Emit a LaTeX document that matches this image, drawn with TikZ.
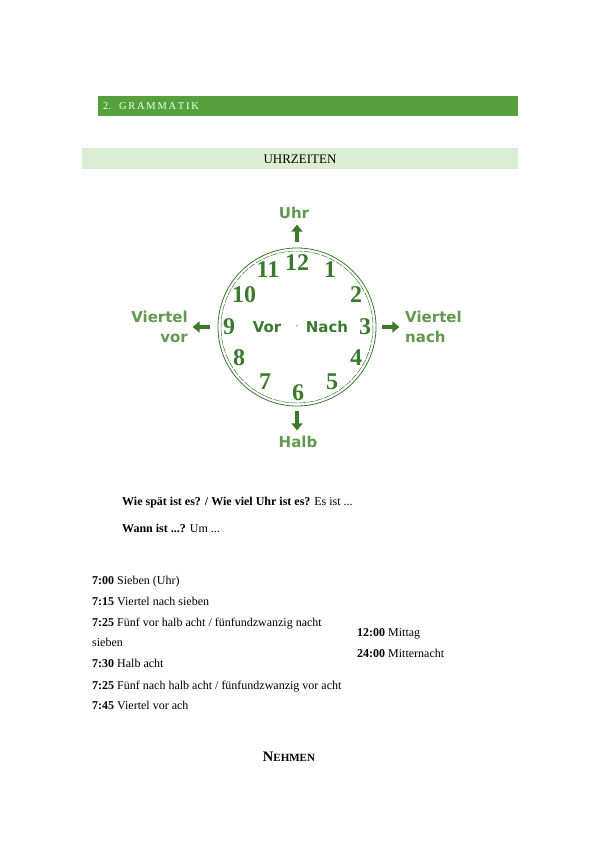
\documentclass[tikz,border=0pt]{standalone}
\usepackage{fontspec}
\setmainfont{Liberation Serif}
\newfontfamily\clocksans{DejaVu Sans}
\usetikzlibrary{arrows.meta}
\definecolor{barGreen}{RGB}{86,160,62}
\definecolor{lightBar}{RGB}{219,238,212}
\definecolor{clockGreen}{RGB}{58,122,44}
\definecolor{labelGreen}{RGB}{98,152,80}

\begin{document}
\begin{tikzpicture}[line cap=round,line join=round,x=1pt,y=-1pt,
  num/.style={text=clockGreen,font=\fontsize{24}{24}\selectfont\bfseries,inner sep=0pt},
  lab/.style={text=labelGreen,font=\clocksans\fontsize{15}{20}\selectfont\bfseries,inner sep=0pt},
  ptr/.style={draw=clockGreen,line width=4pt,line cap=butt,-{Triangle[length=7pt,width=11pt]}},
  txt/.style={anchor=base west,inner sep=0pt,font=\fontsize{12}{14}\selectfont}]
\useasboundingbox (0,0) rectangle (599,848);
% section bars
\fill [barGreen] (98,96) rectangle (518,116);
\node [anchor=west,inner sep=0pt,text=white!92!green,font=\fontsize{10.5}{12}\selectfont] (head) at (103,106) {2.\hspace{8pt}G\,R\,A\,M\,M\,A\,T\,I\,K};
\fill [lightBar] (82,148) rectangle (518,169);
\node [inner sep=0pt,font=\fontsize{13}{14}\selectfont] (title) at (300,159) {UHRZEITEN};
% clock
\node [circle,draw=clockGreen,line width=0.8pt,minimum size=158pt,inner sep=0pt] (clock) at (297,327) {};
\draw [clockGreen,line width=0.5pt,dash pattern=on 7pt off 1.5pt] (clock.center) circle [radius=76];
\foreach \n/\px/\py in {12/297/263, 1/330/270, 2/356/295, 3/365/327, 4/356/358, 5/332/382,
    6/298/393, 7/265/382, 8/239/358, 9/229/327, 10/244/295, 11/268/270}
  \node [num] (h\n) at (\px,\py) {\n};
\node [lab,text=clockGreen] (vor) at (267,327) {Vor};
\node [lab,text=clockGreen] (nach) at (327,327) {Nach};
\node [lab,text=clockGreen,font=\clocksans\fontsize{8}{8}\selectfont] (mid) at (297,327) {-};
% labels and arrows
\node [lab,anchor=south] (uhr) at (294,219) {Uhr};
\node [lab,anchor=north] (halb) at (298,436) {Halb};
\node [lab,anchor=west,align=left] (vnach) at (405,327) {Viertel\\nach};
\node [lab,anchor=east,align=right] (vvor) at (188,327) {Viertel\\vor};
\draw [ptr] ([yshift=6pt]clock.north) -- ++(0,-17);
\draw [ptr] ([yshift=-5pt]clock.south) -- ++(0,19);
\draw [ptr] ([xshift=6pt]clock.east) -- ++(17,0);
\draw [ptr] ([xshift=-8pt]clock.west) -- ++(-17,0);
% questions
\node [txt] (q1) at (122,505) {\textbf{Wie spät ist es? / Wie viel Uhr ist es?} Es ist ...};
\node [txt] (q2) at (122,532) {\textbf{Wann ist ...?} Um ...};
% times
\node [txt] (t1) at (92,584) {\textbf{7:00} Sieben (Uhr)};
\node [txt] (t2) at (92,605) {\textbf{7:15} Viertel nach sieben};
\node [txt] (t3) at (92,626) {\textbf{7:25} Fünf vor halb acht / fünfundzwanzig nacht};
\node [txt] (t3b) at (92,646) {sieben};
\node [txt] (t4) at (92,667) {\textbf{7:30} Halb acht};
\node [txt] (t5) at (92,689) {\textbf{7:25} Fünf nach halb acht / fünfundzwanzig vor acht};
\node [txt] (t6) at (92,709) {\textbf{7:45} Viertel vor ach};
\node [txt] (m1) at (357,636) {\textbf{12:00} Mittag};
\node [txt] (m2) at (357,657) {\textbf{24:00} Mitternacht};
\node [anchor=base,inner sep=0pt,font=\bfseries] (nehmen) at (289,761) {\fontsize{14.5}{14}\selectfont N\fontsize{11}{11}\selectfont EHMEN};
\end{tikzpicture}
\end{document}
